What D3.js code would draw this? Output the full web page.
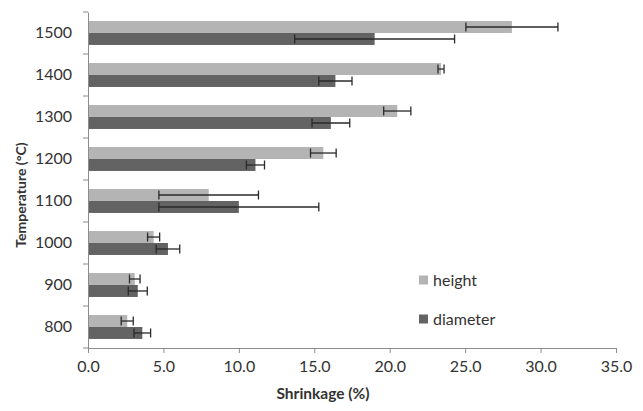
<!DOCTYPE html>
<html>
<head>
<meta charset="utf-8">
<script src="https://cdn.jsdelivr.net/npm/d3@7"></script>
<style>
  body { margin: 0; background: #fff; }
  text { font-family: Lato, "Open Sans", sans-serif; fill: #333; }
</style>
</head>
<body>
<div id="chart"></div>
<script>
// the data
var temps = ["1500", "1400", "1300", "1200", "1100", "1000", "900", "800"];
var heightVals = [28.1, 23.4, 20.5, 15.6, 8.0, 4.35, 3.1, 2.6];
var heightErr  = [3.05, 0.2, 0.9, 0.85, 3.3, 0.4, 0.35, 0.4];
var diamVals   = [19.0, 16.4, 16.1, 11.1, 10.0, 5.3, 3.3, 3.6];
var diamErr    = [5.3, 1.1, 1.25, 0.6, 5.3, 0.78, 0.63, 0.55];
var xTicks = [0, 5, 10, 15, 20, 25, 30, 35];
var seriesNames = ["height", "diameter"];
var colors = ["#b4b4b4", "#636363"];

var margin = {top: 12, right: 27, bottom: 63, left: 88},
    width = 643 - margin.left - margin.right,
    height = 411 - margin.top - margin.bottom;

var svg = d3.select("#chart").append("svg")
    .attr("width", 643)
    .attr("height", 411)
  .append("g")
    .attr("transform", "translate(" + margin.left + "," + margin.top + ")");

// scales
var x = d3.scaleLinear().domain([0, 35]).range([0, width]);
var y = d3.scaleBand().domain(temps).range([0, height]).paddingInner(0.43).paddingOuter(0.215);
var y1 = d3.scaleBand().domain(seriesNames).range([0, y.bandwidth()]);
var yb = d3.scaleBand().domain(temps).range([0, height]); // full bands for ticks

var rows = temps.map(function(t, i) {
  return {t: t, vals: [
    {s: "height", v: heightVals[i], e: heightErr[i]},
    {s: "diameter", v: diamVals[i], e: diamErr[i]}
  ]};
});

var groups = svg.selectAll(".grp")
  .data(rows)
  .enter().append("g")
    .attr("class", "grp")
    .attr("transform", function(d) { return "translate(0," + y(d.t) + ")"; });

// bars
groups.selectAll("rect")
  .data(function(d) { return d.vals; })
  .enter().append("rect")
    .attr("x", 0)
    .attr("y", function(d) { return y1(d.s); })
    .attr("height", y1.bandwidth())
    .attr("width", function(d) { return x(d.v); })
    .attr("fill", function(d, i) { return colors[i]; });

// error bars
var eb = groups.selectAll(".err")
  .data(function(d) { return d.vals; })
  .enter().append("g")
    .attr("class", "err")
    .attr("stroke", "#2a2a2a")
    .attr("stroke-width", 1.3);
eb.append("line")
  .attr("x1", function(d) { return x(d.v - d.e); })
  .attr("x2", function(d) { return x(d.v + d.e); })
  .attr("y1", function(d) { return y1(d.s) + y1.bandwidth() / 2; })
  .attr("y2", function(d) { return y1(d.s) + y1.bandwidth() / 2; });
[-1, 1].forEach(function(sign) {
  eb.append("line")
    .attr("x1", function(d) { return x(d.v + sign * d.e); })
    .attr("x2", function(d) { return x(d.v + sign * d.e); })
    .attr("y1", function(d) { return y1(d.s) + y1.bandwidth() / 2 - 4.5; })
    .attr("y2", function(d) { return y1(d.s) + y1.bandwidth() / 2 + 4.5; });
});

// x axis
var xAxis = svg.append("g")
  .attr("transform", "translate(0," + height + ")")
  .call(d3.axisBottom(x).tickValues(xTicks).tickFormat(d3.format(".1f")).tickSizeInner(5).tickSizeOuter(0).tickPadding(8));
xAxis.select(".domain").attr("stroke", "#8c8c8c");
xAxis.selectAll(".tick line").attr("stroke", "#8c8c8c");
xAxis.selectAll("text").style("font-size", "16px").style("fill", "#333");

// y axis: labels centred on bands, ticks on the band edges
var yAxis = svg.append("g")
  .call(d3.axisLeft(yb).tickSize(0).tickPadding(16));
yAxis.select(".domain").attr("stroke", "#8c8c8c");
yAxis.selectAll("text").style("font-size", "16px").style("fill", "#333");
svg.selectAll(".ytick")
  .data(temps.concat(["end"]))
  .enter().append("line")
    .attr("x1", -5).attr("x2", 0)
    .attr("y1", function(d, i) { return i * yb.step(); })
    .attr("y2", function(d, i) { return i * yb.step(); })
    .attr("stroke", "#8c8c8c");

// axis titles
svg.append("text")
  .attr("x", width / 2 - 29)
  .attr("y", height + 51)
  .style("text-anchor", "middle")
  .style("font-size", "15.5px")
  .style("font-weight", "bold")
  .text("Shrinkage (%)");
svg.append("text")
  .attr("transform", "rotate(-90)")
  .attr("x", -height / 2 - 15)
  .attr("y", -62)
  .style("text-anchor", "middle")
  .style("font-size", "14px")
  .style("font-weight", "bold")
  .text("Temperature (°C)");

// legend
var legend = svg.selectAll(".legend")
  .data(seriesNames)
  .enter().append("g")
    .attr("class", "legend")
    .attr("transform", function(d, i) { return "translate(331," + (280 + i * 39 - margin.top) + ")"; });
legend.append("rect")
  .attr("x", 0).attr("y", -4.5)
  .attr("width", 9).attr("height", 9)
  .attr("fill", function(d, i) { return colors[i]; });
legend.append("text")
  .attr("x", 14)
  .attr("dy", "0.35em")
  .style("font-size", "16px")
  .text(function(d) { return d; });
</script>
</body>
</html>
